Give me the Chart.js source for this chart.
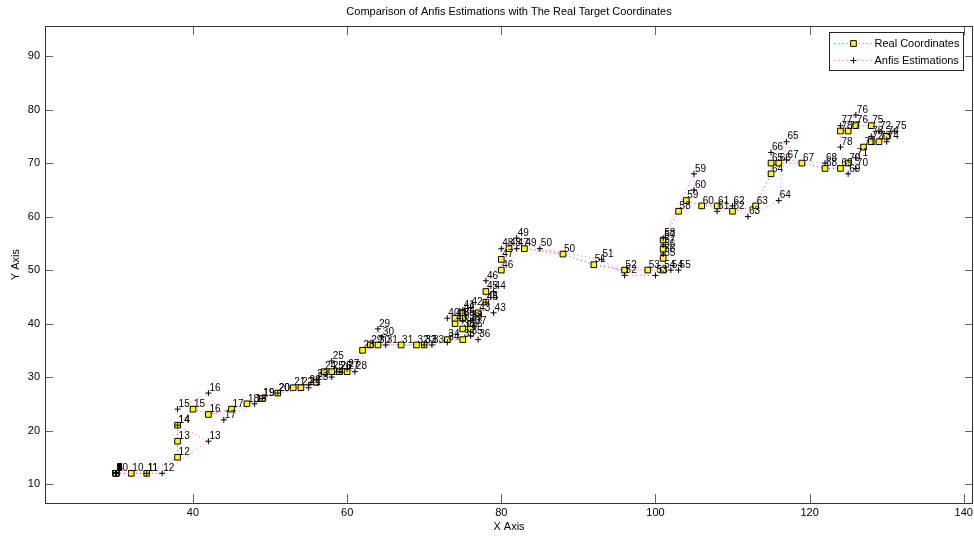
<!DOCTYPE html>
<html lang="en">
<head>
    <meta charset="UTF-8" />
    <title>Comparison of Anfis Estimations with The Real Target Coordinates</title>
    <style>
        html, body { margin: 0; padding: 0; background: #fff; overflow: hidden; }
        canvas { display: block; }
    </style>
    <script src="https://cdn.jsdelivr.net/npm/chart.js"></script>
</head>
<body>
    <canvas id="anfisChart" width="974" height="537"></canvas>

    <script>
        // real target coordinates (points 1..78)
        const realX = [30, 30, 30, 30, 30, 30, 30, 30, 30, 32, 34, 38, 38, 38, 40, 42, 45, 47, 49, 51,
            53, 54, 56, 57, 58, 59, 60, 62, 63, 64, 67, 69, 70, 73, 75, 76, 76, 75, 75, 74,
            74, 75, 77, 78, 78, 80, 80, 81, 83, 88, 92, 96, 99, 101, 101, 101, 101, 103, 104, 106,
            108, 110, 113, 115, 115, 116, 119, 122, 124, 125, 127, 128, 129, 130, 128, 126, 125, 124];
        const realY = [12, 12, 12, 12, 12, 12, 12, 12, 12, 12, 12, 15, 18, 21, 24, 23, 24, 25, 26, 27,
            28, 28, 29, 31, 31, 31, 31, 35, 36, 36, 36, 36, 36, 37, 37, 39, 40, 39, 41, 40,
            41, 42, 42, 44, 46, 50, 52, 54, 54, 53, 51, 50, 50, 50, 52.2, 53.9, 55.6, 61, 63, 62,
            62, 61, 62, 68, 70, 70, 70, 69, 69, 70, 73, 74, 74, 75, 77, 77, 76, 76];

        // anfis estimations (points 1..78)
        const estX = [30, 30, 30, 30, 30, 30, 30, 30, 30, 30, 34, 36, 42, 38, 38, 42, 44, 48, 49, 51,
            55, 55, 56, 58, 58, 59, 60, 61, 64, 64.5, 65, 70, 71, 73, 76, 77, 76.5, 76, 75, 73,
            75, 76, 79, 79, 78, 78, 82, 80, 82, 85, 93, 96, 100, 102, 103, 101, 101, 101, 105, 105,
            108, 110, 112, 116, 117, 115, 117, 122, 125, 126, 126, 129, 128, 130, 131, 126, 124, 124];
        const estY = [12, 12, 12, 12, 12, 12, 12, 12, 12, 12, 12, 12, 18, 21, 24, 27, 22, 25, 26, 27,
            28, 28.5, 29.5, 30, 33, 31, 31.5, 31, 39, 37.5, 36, 36, 36, 36.5, 37.7, 37, 39.5, 40.5, 40.5, 41,
            42.5, 43, 42, 46, 44, 48, 54, 54, 56, 54, 52, 49, 49, 50, 50, 53, 54.7, 56, 68, 65,
            61, 62, 60, 63, 74, 72, 70.6, 70, 68, 69, 71, 76, 75, 74, 76, 79, 77, 73];

        const xTickValues = [40, 60, 80, 100, 120, 140];
        const yTickValues = [10, 20, 30, 40, 50, 60, 70, 80, 90];

        const FONT = "'Liberation Sans', Arial, Helvetica, sans-serif";

        function toPoints(xs, ys) {
            return xs.map((x, i) => ({ x: x, y: ys[i] }));
        }

        // numbers next to every marker
        const pointLabels = {
            id: "pointLabels",
            afterDatasetsDraw(chart) {
                const ctx = chart.ctx;
                ctx.save();
                ctx.font = "10px " + FONT;
                ctx.fillStyle = "#000";
                ctx.textAlign = "left";
                ctx.textBaseline = "middle";
                chart.data.datasets.forEach((ds, di) => {
                    chart.getDatasetMeta(di).data.forEach((el, i) => {
                        ctx.fillText(String(i + 1), el.x + 1, el.y - 5);
                    });
                });
                ctx.restore();
            },
        };

        // matlab style box with inward ticks and a legend inside the axes
        const axesBox = {
            id: "axesBox",
            afterDraw(chart) {
                const ctx = chart.ctx;
                const a = chart.chartArea;
                const xs = chart.scales.x;
                const ys = chart.scales.y;
                ctx.save();
                ctx.lineWidth = 1;
                ctx.strokeStyle = "#666";
                ctx.beginPath();
                xTickValues.forEach((v) => {
                    const px = Math.round(xs.getPixelForValue(v)) + 0.5;
                    ctx.moveTo(px, a.bottom); ctx.lineTo(px, a.bottom - 9);
                    ctx.moveTo(px, a.top); ctx.lineTo(px, a.top + 9);
                });
                yTickValues.forEach((v) => {
                    const py = Math.round(ys.getPixelForValue(v)) + 0.5;
                    ctx.moveTo(a.left, py); ctx.lineTo(a.left + 8, py);
                    ctx.moveTo(a.right, py); ctx.lineTo(a.right - 8, py);
                });
                ctx.stroke();
                ctx.strokeStyle = "#333";
                ctx.strokeRect(Math.round(a.left) + 0.5, Math.round(a.top) + 0.5,
                    Math.round(a.right - a.left) - 1, Math.round(a.bottom - a.top));

                // legend
                const lw = 134, lh = 38;
                const lx = Math.round(a.right) - 10 - lw + 0.5;
                const ly = Math.round(a.top) + 6 + 0.5;
                ctx.fillStyle = "#fff";
                ctx.fillRect(lx, ly, lw, lh);
                ctx.strokeStyle = "#222";
                ctx.strokeRect(lx, ly, lw, lh);
                ctx.font = "11px " + FONT;
                ctx.textBaseline = "middle";
                chart.data.datasets.forEach((ds, i) => {
                    const ry = Math.round(ly + 10 + i * 17) + 0.5;
                    ctx.save();
                    ctx.strokeStyle = ds.borderColor;
                    ctx.setLineDash(ds.borderDash);
                    ctx.beginPath();
                    ctx.moveTo(lx + 5, ry);
                    ctx.lineTo(lx + 42, ry);
                    ctx.stroke();
                    ctx.restore();
                    ctx.save();
                    ctx.fillStyle = ds.pointBackgroundColor;
                    ctx.strokeStyle = ds.pointBorderColor;
                    ctx.lineWidth = 1;
                    Chart.helpers.drawPoint(ctx, {
                        pointStyle: ds.pointStyle,
                        radius: ds.pointRadius,
                        borderWidth: 1,
                        rotation: 0,
                    }, lx + 24, ry);
                    ctx.restore();
                    ctx.fillStyle = "#000";
                    ctx.fillText(ds.label, lx + 45, ry);
                });
                ctx.restore();
            },
        };

        const chart = new Chart(document.getElementById("anfisChart").getContext("2d"), {
            type: "scatter",
            data: {
                datasets: [
                    {
                        label: "Real Coordinates",
                        data: toPoints(realX, realY),
                        showLine: true,
                        borderColor: "#ff3030",
                        borderWidth: 1,
                        borderDash: [1, 3],
                        pointStyle: "rect",
                        pointRadius: 4,
                        pointBackgroundColor: "#ffff00",
                        pointBorderColor: "#000",
                        pointBorderWidth: 1,
                        order: 1,
                    },
                    {
                        label: "Anfis Estimations",
                        data: toPoints(estX, estY),
                        showLine: true,
                        borderColor: "#ff55ff",
                        borderWidth: 1,
                        borderDash: [1, 3],
                        pointStyle: "cross",
                        pointRadius: 3,
                        pointBackgroundColor: "#000",
                        pointBorderColor: "#000",
                        pointBorderWidth: 1,
                        order: 0,
                    },
                ],
            },
            options: {
                responsive: false,
                animation: false,
                events: [],
                devicePixelRatio: 1,
                layout: { autoPadding: false, padding: { left: 0, right: 1, top: 0, bottom: 0 } },
                plugins: {
                    legend: { display: false },
                    tooltip: { enabled: false },
                    title: {
                        display: true,
                        fullSize: false,
                        text: "Comparison of Anfis Estimations with The Real Target Coordinates",
                        color: "#000",
                        font: { family: FONT, size: 11, weight: "normal" },
                        padding: { top: 5, bottom: 8 },
                    },
                },
                scales: {
                    x: {
                        type: "linear",
                        min: 20.8,
                        max: 141.2,
                        grid: { display: false, drawTicks: false },
                        border: { display: false },
                        afterBuildTicks: (scale) => { scale.ticks = xTickValues.map((v) => ({ value: v })); },
                        afterFit: (scale) => {
                            scale.height = 34;
                            scale.paddingLeft = 0;
                            scale.paddingRight = 0;
                        },
                        ticks: { color: "#000", padding: 3, maxRotation: 0, font: { family: FONT, size: 11 } },
                        title: {
                            display: true,
                            text: "X Axis",
                            color: "#000",
                            font: { family: FONT, size: 11 },
                            padding: { top: 0, bottom: 3 },
                        },
                    },
                    y: {
                        type: "linear",
                        min: 6.45,
                        max: 95.6,
                        grid: { display: false, drawTicks: false },
                        border: { display: false },
                        afterBuildTicks: (scale) => { scale.ticks = yTickValues.map((v) => ({ value: v })); },
                        afterFit: (scale) => { scale.width = 45; },
                        ticks: { color: "#000", padding: 5, font: { family: FONT, size: 11 } },
                        title: {
                            display: true,
                            text: "Y Axis",
                            color: "#000",
                            font: { family: FONT, size: 11 },
                            padding: { top: 9, bottom: 0 },
                        },
                    },
                },
            },
            plugins: [pointLabels, axesBox],
        });
    </script>
</body>
</html>
